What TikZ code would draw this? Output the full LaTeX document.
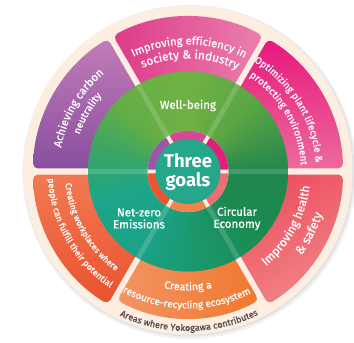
\documentclass[tikz,border=0pt]{standalone}
\usepackage{fontspec}
\setmainfont{Fira Sans}
\newfontfamily\fira{Fira Sans}
\newfontfamily\firam{Fira Sans}[FakeBold=0.8]
\newcommand\sbf{\firam}
\usetikzlibrary{decorations.text}

\definecolor{cream}{RGB}{252,239,226}
\definecolor{lbl}{RGB}{85,75,72}
\definecolor{tealc}{RGB}{38,166,138}
% green disk keys
\definecolor{g0}{RGB}{35,135,78}
\definecolor{g45}{RGB}{90,165,68}
\definecolor{g90}{RGB}{112,178,68}
\definecolor{g135}{RGB}{100,174,70}
\definecolor{g165}{RGB}{60,165,100}
\definecolor{g200}{RGB}{28,165,138}
\definecolor{g240}{RGB}{27,162,135}
\definecolor{g280}{RGB}{28,150,105}
\definecolor{g320}{RGB}{26,138,80}
% segment colours
\definecolor{pinkA}{RGB}{221,58,138}
\definecolor{pinkB}{RGB}{234,128,172}
\definecolor{magA}{RGB}{230,24,124}
\definecolor{magB}{RGB}{236,106,156}
\definecolor{corA}{RGB}{236,78,96}
\definecolor{corB}{RGB}{241,134,134}
\definecolor{oraA}{RGB}{240,120,45}
\definecolor{oraB}{RGB}{243,148,100}
\definecolor{redA}{RGB}{241,122,82}
\definecolor{redB}{RGB}{233,82,46}
\definecolor{purA}{RGB}{194,125,184}
\definecolor{purB}{RGB}{136,78,158}
% inner ring colours
\definecolor{rpink}{RGB}{212,72,150}
\definecolor{rmag}{RGB}{226,30,122}
\definecolor{rcor}{RGB}{236,110,115}
\definecolor{rora}{RGB}{240,132,76}
\definecolor{rred}{RGB}{235,86,50}
\definecolor{rpur}{RGB}{150,90,165}

\newsavebox\mybox
\newcommand\measure[2]{\sbox\mybox{\sbf\fontsize{10}{12}\selectfont #2}%
  \expandafter\xdef\csname wd#1\endcsname{\the\wd\mybox}}
\AtBeginDocument{%
  \measure{a}{Improving efficiency in}%
  \measure{b}{society {\&} industry}%
  \measure{c}{Achieving carbon}%
  \measure{d}{neutrality}%
  \measure{e}{Optimizing plant lifecycle {\&}}%
  \measure{f}{protecting environment}%
  \measure{g}{Improving health}%
  \measure{h}{{\&} safety}%
  \measure{i}{Creating a}%
  \measure{j}{resource-recycling ecosystem}%
  \measure{k}{Creating workplaces where}%
  \measure{l}{people can fulfill their potential}%
  \measure{m}{Areas where Yokogawa contributes}}

\newcommand\getfs[3]{% radius, span, key
  \edef\ww{\csname wd#3\endcsname}%
  \ifdim\ww<1pt \def\fs{9.5}\else
  \pgfmathsetmacro\fs{10*(#2)*pi/180*(#1)/\ww}\fi}
\newcommand\toptext[6]{%
  \getfs{#1}{#3}{#6}%
  \path[decorate,decoration={text along path,text align=center,
    text={|\sbf\fontsize{\fs}{\fs}\selectfont\color{#5}|#4}}]
    ({#2+45}:#1pt) arc[start angle={#2+45},end angle={#2-45},radius=#1pt];}
\newcommand\bottext[6]{%
  \getfs{#1}{#3}{#6}%
  \path[decorate,decoration={text along path,text align=center,
    text={|\sbf\fontsize{\fs}{\fs}\selectfont\color{#5}|#4}}]
    ({#2-45}:#1pt) arc[start angle={#2-45},end angle={#2+45},radius=#1pt];}
\newcommand\seg[4]{%
  \shade[rounded corners=5pt,#4]
   ({#1+asin(3/#3)}:#3pt) arc[start angle={#1+asin(3/#3)},end angle={#2-asin(3/#3)},radius=#3pt]
   -- ({#2-2}:88pt) arc[start angle={#2-2},end angle={#1+2},radius=88pt] -- cycle;}
\newcommand\rseg[3]{%
  \fill[#3,rounded corners=0.8pt]
   ({#1+2.8}:40.5pt) arc[start angle={#1+2.8},end angle={#2-2.8},radius=40.5pt]
   -- ({#2-3.7}:31pt) arc[start angle={#2-3.7},end angle={#1+3.7},radius=31pt] -- cycle;}

\tikzset{
  greenlbl/.style={text=white,font=\firam\fontsize{11.5}{12}\selectfont,align=center,inner sep=0pt},
  goalslbl/.style={text=white,font=\fira\bfseries\fontsize{18.5}{19}\selectfont,align=center,inner sep=0pt},
}

\begin{document}
\begin{tikzpicture}[x=1pt,y=1pt]
\useasboundingbox (0,0) rectangle (354,343);
\fill[white] (0,0) rectangle (354,343);
% shadow and cream disk
\fill[black,opacity=0.05] (189.5,171) circle[radius=167pt];
\fill[black,opacity=0.06] (189,172) circle[radius=165.5pt];
\fill[cream] (188,173) circle[radius=164.5pt];
\begin{scope}[shift={(188,171.5)}]
% outer segments
\seg{60}{120}{155}{left color=pinkA,right color=pinkB}
\seg{0}{60}{155}{top color=magA,bottom color=magB}
\seg{-60}{0}{155}{top color=corA,bottom color=corB,shading angle=30}
\seg{240}{300}{147}{left color=oraB,right color=oraA}
\seg{180}{240}{155}{top color=redA,bottom color=redB}
\seg{120}{180}{155}{top color=purA,bottom color=purB}
% green disk with angular gradient
\foreach \a/\b/\ca/\cb in {0/45/g0/g45,45/90/g45/g90,90/135/g90/g135,135/165/g135/g165,165/200/g165/g200,200/240/g200/g240,240/280/g240/g280,280/320/g280/g320,320/360/g320/g0}{
  \foreach \t in {\a,...,\b}{
    \pgfmathtruncatemacro\pp{100*(\b-\t)/(\b-\a)}
    \pgfmathsetmacro\te{\t+1.6}
    \fill[\ca!\pp!\cb] (0,0) -- (\t:100pt) arc[start angle=\t,end angle=\te,radius=100pt] -- cycle;
  }}
% faint dividing lines
\foreach \a in {0,60,...,300}{
  \draw[white,opacity=0.16,line width=5pt] (\a:38pt) -- (\a:100pt);}
% inner ring
\fill[cream] (0,0) circle[radius=40.5pt];
\rseg{60}{120}{rpink}
\rseg{0}{60}{rmag}
\rseg{-60}{0}{rcor}
\rseg{240}{300}{rora}
\rseg{180}{240}{rred}
\rseg{120}{180}{rpur}
\fill[tealc] (0,0) circle[radius=32.5pt];
% centre and green labels
\node[goalslbl] (goals) at (0,-0.5) {Three\\goals};
\node[greenlbl] (wb) at (0,66) {Well-being};
\node[greenlbl] (nz) at (-49,-47) {Net-zero\\Emissions};
\node[greenlbl] (ce) at (49,-47) {Circular\\Economy};
% segment texts
\toptext{127}{89.5}{51.6}{Improving efficiency in}{white}{a}
\toptext{113}{89}{49.4}{society {\&} industry}{white}{b}
\toptext{129}{150}{38.8}{Achieving carbon}{white}{c}
\toptext{114.5}{150}{22.2}{neutrality}{white}{d}
\toptext{128}{31.5}{55}{Optimizing plant lifecycle {\&}}{white}{e}
\toptext{113}{30.2}{53.6}{protecting environment}{white}{f}
\bottext{122.5}{-28.7}{43.4}{Improving health}{white}{g}
\bottext{141}{-27}{18.9}{{\&} safety}{white}{h}
\bottext{119}{270}{23.2}{Creating a}{white}{i}
\bottext{137}{269.4}{55.3}{resource-recycling ecosystem}{white}{j}
\bottext{123}{209.75}{48.1}{Creating workplaces where}{white}{k}
\bottext{140}{209.5}{53}{people can fulfill their potential}{white}{l}
\bottext{159.5}{270.4}{50.8}{Areas where Yokogawa contributes}{lbl}{m}
\end{scope}
\end{tikzpicture}
\end{document}
